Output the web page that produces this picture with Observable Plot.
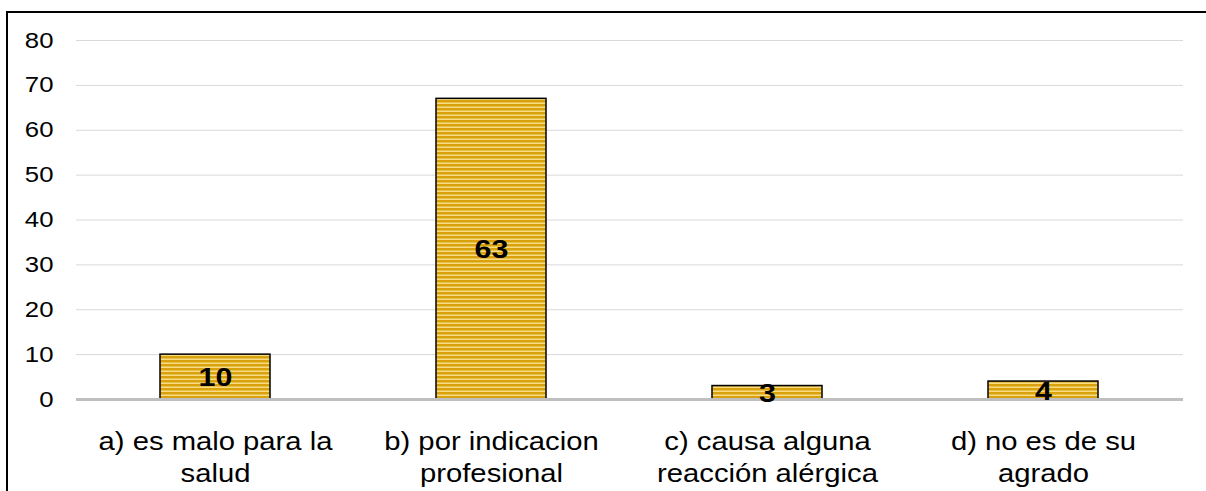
<!DOCTYPE html>
<html>
<head>
<meta charset="utf-8">
<script src="https://cdn.jsdelivr.net/npm/d3@7"></script>
<script src="https://cdn.jsdelivr.net/npm/@observablehq/plot@0.6"></script>
<style>
  html, body { margin: 0; padding: 0; background: #fff; overflow: hidden; }
  #wrap { position: relative; width: 1206px; height: 491px; overflow: hidden; }
  .edge { position: absolute; background: #000; pointer-events: none; }
  #edgeTop { left: 6px; top: 11px; right: 0; height: 2px; }
  #edgeLeft { left: 6px; top: 11px; bottom: 0; width: 2px; }
  svg { display: block; }
</style>
</head>
<body>
<svg width="0" height="0" style="position:absolute">
  <defs>
    <pattern id="stripes" patternUnits="userSpaceOnUse" width="8" height="4">
      <rect x="0" y="0" width="8" height="4" fill="#F8DC84"></rect>
      <rect x="0" y="0" width="8" height="2.5" fill="#D9A20C"></rect>
    </pattern>
  </defs>
</svg>
<div id="wrap"><div class="edge" id="edgeTop"></div><div class="edge" id="edgeLeft"></div></div>
<script>
const categories = [
  "a) es malo para la\nsalud",
  "b) por indicacion\nprofesional",
  "c) causa alguna\nreacción alérgica",
  "d) no es de su\nagrado"
];
const values = [10, 67, 3, 4];
const labels = ["10", "63", "3", "4"];
const yTicks = [0, 10, 20, 30, 40, 50, 60, 70, 80];

const data = categories.map((c, i) => ({cat: c, value: values[i], label: labels[i]}));

const chart = Plot.plot({
  width: 1206,
  height: 491,
  marginLeft: 76,
  marginRight: 23,
  marginTop: 40,
  marginBottom: 92,
  style: {fontFamily: "'Liberation Sans', Arial, sans-serif", background: "#fff", color: "#000"},
  x: {domain: categories, paddingInner: 0.6, paddingOuter: 0.3, label: null},
  y: {domain: [0, 80], label: null},
  marks: [
    Plot.gridY(yTicks, {stroke: "#d9d9d9", strokeOpacity: 1, strokeWidth: 1}),
    Plot.axisY(yTicks, {tickSize: 0, tickPadding: 23, fontSize: 22, label: null, fill: "#000"}),
    Plot.barY(data, {x: "cat", y: "value", fill: "url(#stripes)", stroke: "#000", strokeWidth: 1.5}),
    Plot.ruleY([0], {stroke: "#bfbfbf", strokeWidth: 3}),
    Plot.axisX({tickSize: 0, tickPadding: 28, fontSize: 25, lineHeight: 1.28, label: null, fill: "#000"}),
    Plot.text(data, {x: "cat", y: d => d.value / 2, text: "label", fontSize: 26, fontWeight: "bold", fill: "#000", dy: 1})
  ]
});
document.getElementById("wrap").prepend(chart);

// the reference's lettering is horizontally stretched; widen each text about its anchor
const stretch = 1.17;
chart.querySelectorAll("text").forEach(t => {
  const tr = t.getAttribute("transform");
  if (tr && tr.includes("translate")) {
    t.setAttribute("transform", tr + ` scale(${stretch},1)`);
  } else {
    const x = +(t.getAttribute("x") || 0);
    t.setAttribute("transform", `translate(${x},0) scale(${stretch},1)`);
    t.setAttribute("x", 0);
  }
});
</script>
</body>
</html>
